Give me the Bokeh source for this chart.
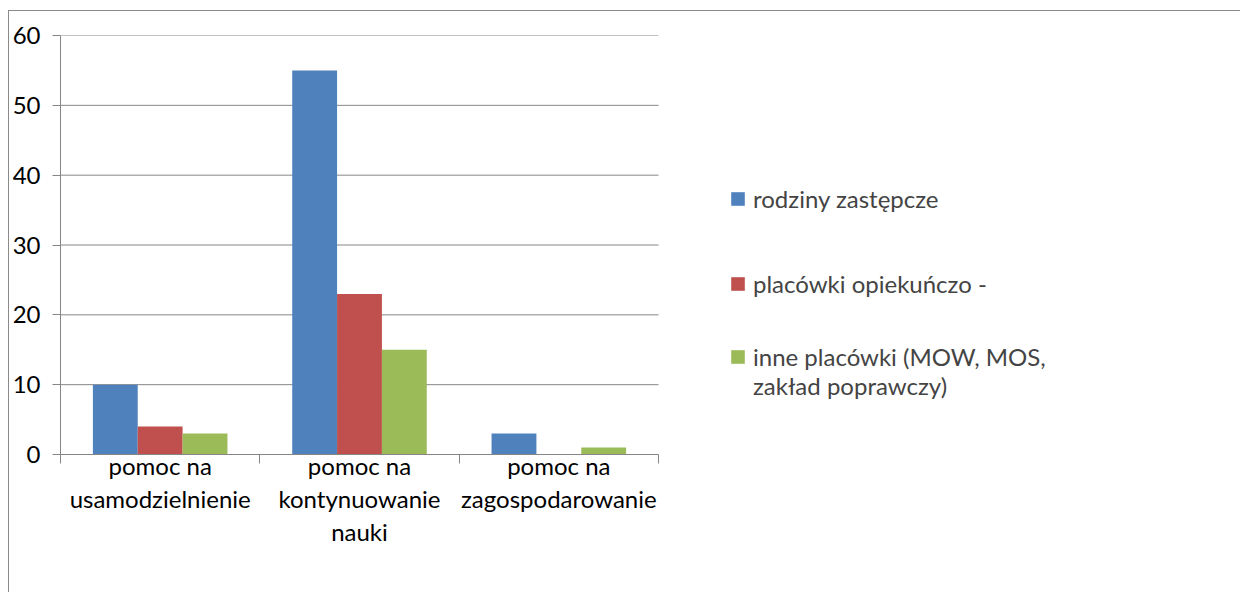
from bokeh.plotting import figure
from bokeh.models import (Range1d, FixedTicker, Legend, LegendItem, ColumnDataSource)
from bokeh.embed import file_html
from bokeh.resources import INLINE

categories = ["pomoc na\nusamodzielnienie", "pomoc na\nkontynuowanie\nnauki", "pomoc na\nzagospodarowanie"]
series_names = ["rodziny zastępcze", "placówki opiekuńczo -", "inne placówki (MOW, MOS,", "zakład poprawczy)"]
rodziny_zastepcze = [10, 55, 3]
placowki_opiekuncze = [4, 23, 0]
inne_placowki = [3, 15, 1]
y_ticks = [0, 10, 20, 30, 40, 50, 60]

colors = ["#4F81BD", "#C0504D", "#9BBB59"]
FONT = "Lato"
FS = "24px"
GRID = "#868686"

n = len(categories)
FRAME_W = 1180
PLOT_W = 598  # pixel width of the category area
x_end = n * FRAME_W / PLOT_W

p = figure(frame_width=FRAME_W, frame_height=419, output_backend="svg", toolbar_location=None,
           x_range=Range1d(0, x_end), y_range=Range1d(0, 60),
           min_border_left=50, min_border_right=0, min_border_top=24, min_border_bottom=138)
p.styles = {"margin": "10px 0px 0px 8px",
            "border-left": "1px solid #8a8a8a", "border-top": "1px solid #8a8a8a"}
p.outline_line_color = None
p.background_fill_color = "white"
p.border_fill_color = "white"

# horizontal gridlines limited to the category area
p.segment(x0=[0] * len(y_ticks), x1=[n] * len(y_ticks), y0=y_ticks, y1=y_ticks,
          line_color=GRID, line_width=1)

bw = 0.225
offsets = [-bw, 0.0, bw]
renderers = []
for vals, col, off in zip([rodziny_zastepcze, placowki_opiekuncze, inne_placowki], colors, offsets):
    xs = [i + 0.5 + off for i in range(n)]
    src = ColumnDataSource(dict(x=xs, top=vals))
    r = p.vbar(x="x", top="top", width=bw, bottom=0, source=src, fill_color=col, line_color=None)
    renderers.append(r)
# invisible entry used only for the second line of the last legend label
blank = p.vbar(x=[], top=[], width=bw, fill_alpha=0, line_color=None)

# y axis
p.yaxis.ticker = FixedTicker(ticks=y_ticks)
p.yaxis.axis_line_color = GRID
p.yaxis.major_tick_line_color = GRID
p.yaxis.major_tick_out = 8
p.yaxis.major_tick_in = 0
p.yaxis.minor_tick_line_color = None
p.yaxis.major_label_standoff = 12
p.yaxis.major_label_text_font = FONT
p.yaxis.major_label_text_font_size = FS
p.yaxis.major_label_text_color = "black"

# x axis
p.xaxis.bounds = (0, n)
p.xaxis.ticker = FixedTicker(ticks=[i + 0.5 for i in range(n)],
                             minor_ticks=list(range(n + 1)))
p.xaxis.major_label_overrides = {i + 0.5: c for i, c in enumerate(categories)}
p.xaxis.axis_line_color = GRID
p.xaxis.major_tick_line_color = None
p.xaxis.major_tick_out = 0
p.xaxis.major_tick_in = 0
p.xaxis.minor_tick_line_color = GRID
p.xaxis.minor_tick_out = 9
p.xaxis.minor_tick_in = 0
p.xaxis.major_label_standoff = -13
p.xaxis.major_label_text_font = FONT
p.xaxis.major_label_text_font_size = FS
p.xaxis.major_label_text_line_height = 1.15
p.xaxis.major_label_text_color = "black"

p.xgrid.grid_line_color = None
p.ygrid.grid_line_color = None

common = dict(orientation="vertical", glyph_width=17, glyph_height=17, label_standoff=7,
              label_text_font=FONT, label_text_font_size=FS, label_height=26,
              padding=0, margin=0, border_line_color=None, background_fill_alpha=0)
legend_a = Legend(items=[LegendItem(label=series_names[0], renderers=[renderers[0]]),
                         LegendItem(label=series_names[1], renderers=[renderers[1]])],
                  location=(669, 156), spacing=56, **common)
legend_b = Legend(items=[LegendItem(label=series_names[2], renderers=[renderers[2]]),
                         LegendItem(label=series_names[3], renderers=[blank])],
                  location=(669, 54), spacing=-2, **common)
p.add_layout(legend_a, "center")
p.add_layout(legend_b, "center")

open("out.html", "w").write(file_html(p, INLINE))
